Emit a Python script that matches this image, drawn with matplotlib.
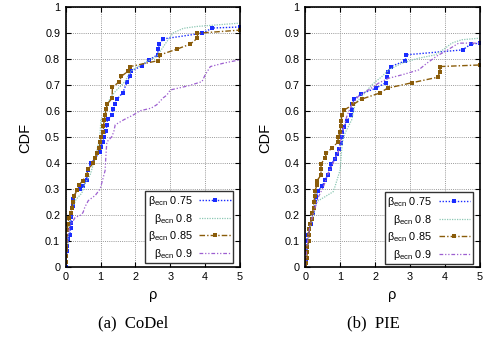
import matplotlib
matplotlib.use("Agg")
import matplotlib.pyplot as plt
import numpy as np

plt.rcParams['font.family'] = ['Liberation Sans', 'DejaVu Sans']
plt.rcParams['mathtext.fontset'] = 'custom'
plt.rcParams['mathtext.rm'] = 'Liberation Sans'
plt.rcParams['mathtext.it'] = 'Liberation Sans'
plt.rcParams['mathtext.sf'] = 'Liberation Sans'

labels = [r"$\mathrm{\beta_{ecn}}$ 0.75", r"$\mathrm{\beta_{ecn}}$ 0.8",
          r"$\mathrm{\beta_{ecn}}$ 0.85", r"$\mathrm{\beta_{ecn}}$ 0.9"]
captions = ["(a)  CoDel", "(b)  PIE"]
x_ticks = [0, 1, 2, 3, 4, 5]
y_ticks = [0, 0.1, 0.2, 0.3, 0.4, 0.5, 0.6, 0.7, 0.8, 0.9, 1]

# ---- CoDel ----
codel_075_x = [0.0, 0.01, 0.02, 0.03, 0.05, 0.08, 0.12, 0.14, 0.15, 0.15, 0.2, 0.22, 0.32, 0.4, 0.51, 0.6, 0.63, 0.73,
               0.97, 1.01, 1.06, 1.1, 1.16, 1.18, 1.2, 1.34, 1.35, 1.41, 1.48, 1.64, 1.76, 1.84, 1.86, 2.2, 2.38,
               2.65, 2.64, 2.69, 2.79, 3.91, 4.21, 5.0]
codel_075_y = [0.0, 0.02, 0.04, 0.06, 0.08, 0.106, 0.123, 0.148, 0.167, 0.193, 0.234, 0.26, 0.296, 0.30, 0.311, 0.334,
               0.373, 0.398, 0.44, 0.46, 0.479, 0.501, 0.523, 0.546, 0.568, 0.584, 0.606, 0.626, 0.646, 0.67, 0.711,
               0.732, 0.751, 0.774, 0.795, 0.816, 0.837, 0.856, 0.876, 0.898, 0.918, 0.922]
codel_08_x = [0.0, 0.05, 0.1, 0.17, 0.3, 0.46, 0.55, 0.7, 0.85, 0.98, 1.01, 1.08, 1.27, 1.42, 1.7, 1.85, 2.13, 2.61,
              2.9, 3.09, 3.38, 3.76, 5.0]
codel_08_y = [0.0, 0.08, 0.15, 0.22, 0.26, 0.283, 0.32, 0.353, 0.42, 0.5, 0.565, 0.578, 0.648, 0.674, 0.712, 0.75,
              0.776, 0.808, 0.866, 0.9, 0.917, 0.924, 0.937]
codel_085_x = [0.0, 0.0, 0.0, 0.01, 0.01, 0.02, 0.05, 0.06, 0.09, 0.15, 0.17, 0.22, 0.24, 0.33, 0.39, 0.49, 0.6,
               0.65, 0.79, 0.84, 0.89, 0.96, 0.99, 1.02, 1.08, 1.08, 1.11, 1.13, 1.16, 1.19, 1.33, 1.34, 1.54, 1.6,
               1.8, 1.85, 2.66, 2.71, 3.19, 3.57, 3.78, 3.78, 5.0]
codel_085_y = [0.02, 0.04, 0.065, 0.08, 0.1, 0.12, 0.142, 0.165, 0.187, 0.208, 0.228, 0.251, 0.273, 0.296, 0.315,
               0.332, 0.353, 0.377, 0.398, 0.418, 0.437, 0.456, 0.48, 0.5, 0.52, 0.542, 0.565, 0.584, 0.606, 0.626,
               0.648, 0.69, 0.712, 0.733, 0.753, 0.77, 0.793, 0.815, 0.837, 0.856, 0.879, 0.898, 0.91]
codel_09_x = [0.0, 0.02, 0.03, 0.12, 0.27, 0.45, 0.5, 0.55, 0.65, 0.85, 0.99, 1.05, 1.13, 1.15, 1.18, 1.32, 1.38,
              1.42, 1.66, 1.94, 2.13, 2.45, 2.61, 2.8, 2.9, 3.0, 3.52, 3.91, 4.0, 4.15, 4.53, 5.0]
codel_09_y = [0.0, 0.05, 0.1, 0.155, 0.19, 0.2, 0.21, 0.23, 0.255, 0.275, 0.3, 0.33, 0.37, 0.42, 0.48, 0.5, 0.52,
              0.546, 0.565, 0.584, 0.6, 0.61, 0.623, 0.65, 0.66, 0.68, 0.696, 0.712, 0.738, 0.77, 0.783, 0.796]

# ---- PIE ----
pie_075_x = [0.0, 0.01, 0.02, 0.04, 0.07, 0.11, 0.15, 0.18, 0.21, 0.25, 0.28, 0.31, 0.37, 0.49, 0.57, 0.64, 0.7,
             0.74, 0.85, 0.9, 0.98, 1.01, 1.05, 1.06, 1.12, 1.19, 1.31, 1.33, 1.35, 1.41, 1.6, 2.03, 2.31, 2.34,
             2.36, 2.45, 2.87, 2.89, 4.51, 4.75, 5.0]
pie_075_y = [0.0, 0.02, 0.06, 0.1, 0.122, 0.145, 0.163, 0.183, 0.206, 0.228, 0.248, 0.27, 0.292, 0.312, 0.334, 0.353,
             0.375, 0.395, 0.414, 0.434, 0.455, 0.478, 0.498, 0.52, 0.539, 0.561, 0.582, 0.603, 0.625, 0.645, 0.665,
             0.687, 0.708, 0.731, 0.75, 0.77, 0.792, 0.815, 0.834, 0.856, 0.86]
pie_08_x = [0.0, 0.03, 0.12, 0.23, 0.33, 0.57, 0.8, 0.85, 1.0, 1.06, 1.14, 1.33, 1.43, 1.62, 1.91, 2.2, 2.39, 2.77,
            3.25, 3.73, 4.01, 4.2, 4.49, 5.0]
pie_08_y = [0.0, 0.04, 0.14, 0.193, 0.251, 0.27, 0.289, 0.308, 0.373, 0.48, 0.514, 0.565, 0.629, 0.655, 0.70,
            0.732, 0.757, 0.783, 0.802, 0.815, 0.84, 0.86, 0.873, 0.879]
pie_085_x = [0.0, 0.03, 0.04, 0.06, 0.06, 0.1, 0.11, 0.11, 0.14, 0.18, 0.2, 0.24, 0.24, 0.28, 0.28, 0.33, 0.34, 0.45,
             0.45, 0.45, 0.57, 0.6, 0.76, 0.93, 0.95, 1.0, 1.02, 1.03, 1.05, 1.12, 1.38, 1.62, 2.13, 2.36, 3.07,
             3.8, 3.86, 3.87, 5.0]
pie_085_y = [0.0, 0.014, 0.035, 0.057, 0.078, 0.1, 0.122, 0.145, 0.165, 0.186, 0.207, 0.228, 0.25, 0.273, 0.293,
             0.313, 0.332, 0.353, 0.375, 0.396, 0.418, 0.437, 0.456, 0.479, 0.5, 0.52, 0.542, 0.562, 0.584, 0.603,
             0.625, 0.645, 0.668, 0.687, 0.708, 0.729, 0.75, 0.77, 0.776]
pie_09_x = [0.0, 0.04, 0.13, 0.23, 0.38, 0.52, 0.66, 0.8, 0.97, 1.05, 1.19, 1.32, 1.52, 1.81, 2.1, 2.39, 2.77, 3.25,
            3.49, 3.78, 4.01, 4.4, 5.0]
pie_09_y = [0.0, 0.075, 0.155, 0.206, 0.27, 0.308, 0.36, 0.4, 0.45, 0.51, 0.578, 0.62, 0.655, 0.68, 0.706, 0.725,
            0.738, 0.757, 0.783, 0.811, 0.828, 0.86, 0.86]

panels = [
    [(codel_075_x, codel_075_y), (codel_08_x, codel_08_y), (codel_085_x, codel_085_y), (codel_09_x, codel_09_y)],
    [(pie_075_x, pie_075_y), (pie_08_x, pie_08_y), (pie_085_x, pie_085_y), (pie_09_x, pie_09_y)],
]

styles = [
    dict(color='#1a2cff', linestyle=(0, (1, 1.2)), linewidth=1.0, marker='s', markersize=3.0, markeredgewidth=0),
    dict(color='#8cc8b4', linestyle=(0, (1, 1)), linewidth=0.9),
    dict(color='#8a5c0a', linestyle=(0, (4, 1.5, 1, 1.5)), linewidth=1.0, marker='s', markersize=3.0,
         markeredgewidth=0),
    dict(color='#9d5fd0', linestyle=(0, (3, 1.5, 1, 1.5, 1, 1.5)), linewidth=0.9),
]

fig = plt.figure(figsize=(4.89, 3.45), dpi=100)
lefts = [65.7 / 489, 305.3 / 489]
w = 174.3 / 489
b = (345 - 266.9) / 345
h = 260.2 / 345
leg_anchor = [(0.962, 0.014), (0.960, 0.010)]
cap_x = [133 / 489, 373 / 489]
cdf_x = [25 / 489, 265 / 489]

for i in range(2):
    ax = fig.add_axes([lefts[i], b, w, h])
    for (xs, ys), st, lab in zip(panels[i], styles, labels):
        ax.plot(xs, ys, label=lab, **st)
    ax.set_xlim(0, 5)
    ax.set_ylim(0, 1)
    ax.set_xticks(x_ticks)
    ax.set_yticks(y_ticks)
    ax.set_xticklabels([str(t) for t in x_ticks])
    ax.set_yticklabels(['0' if t == 0 else ('1' if t == 1 else f'{t:.1f}') for t in y_ticks])
    ax.tick_params(direction='in', length=3.5, width=0.8, labelsize=7.8, top=True, right=True, pad=4,
                   colors='black')
    ax.grid(True, color='#999999', linestyle=(0, (1, 1.2)), linewidth=0.7)
    ax.set_axisbelow(True)
    for s in ax.spines.values():
        s.set_linewidth(1.2)
    ax.set_xlabel('ρ', fontsize=10.5, labelpad=4)
    fig.text(cdf_x[i], 1 - 138 / 345, 'CDF', rotation=90, fontsize=10.5, ha='center', va='center')
    leg = ax.legend(loc='lower right', bbox_to_anchor=leg_anchor[i], fontsize=7.8, markerfirst=False,
                    handlelength=2.9, handletextpad=0.6, labelspacing=0.32, borderpad=0.25, borderaxespad=0,
                    fancybox=False, framealpha=1, edgecolor='#333333')
    leg.get_frame().set_linewidth(1.0)
    fig.text(cap_x[i], 1 - 323 / 345, captions[i], fontsize=12, ha='center', va='center',
             family='Liberation Serif')

fig.savefig('out.png', dpi=100)
